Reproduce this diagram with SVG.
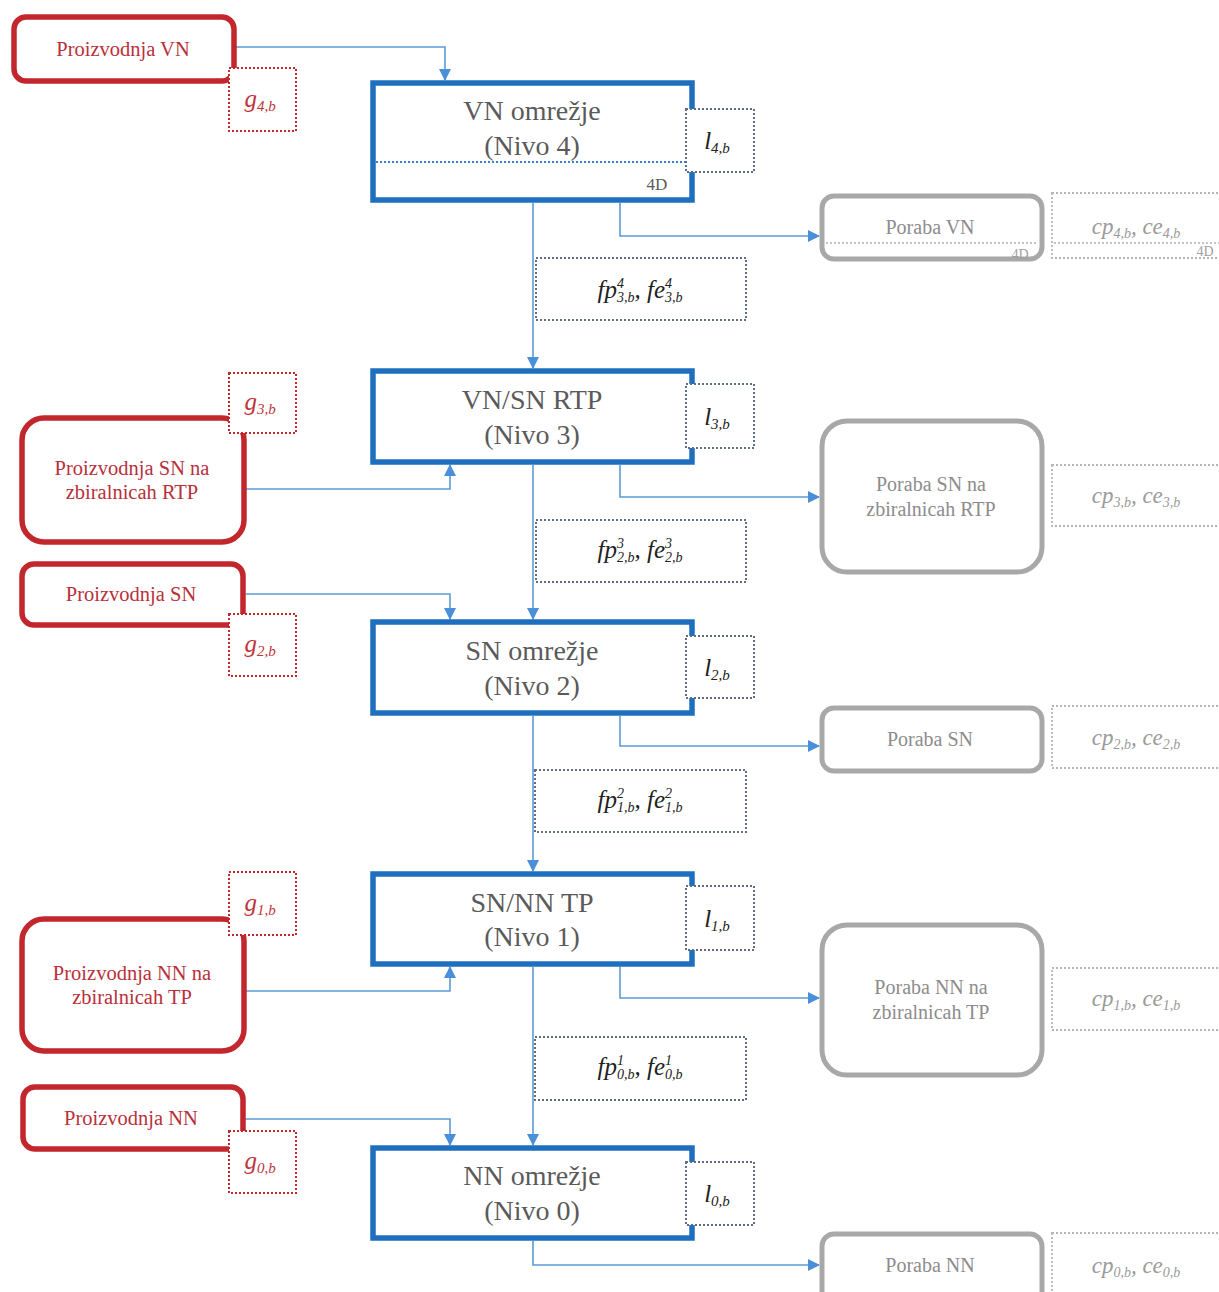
<svg xmlns="http://www.w3.org/2000/svg" width="1219" height="1292" viewBox="0 0 1219 1292">
<style>
.bg{fill:#fff}
.blue{fill:#fff;stroke:#1f6fbf;stroke-width:5.5}
.red{fill:#fff;stroke:#c1272d;stroke-width:5.5}
.gray{fill:#fff;stroke:#a8a8a8;stroke-width:5}
.dotr{fill:#fff;stroke:#c1272d;stroke-width:2;stroke-dasharray:2 2}
.dotb{fill:#fff;stroke:#5d6e86;stroke-width:2;stroke-dasharray:2 2}
.dotg{fill:#fff;stroke:#b5b5b5;stroke-width:1.8;stroke-dasharray:2 2}
.inl{fill:none;stroke:#3b7fc4;stroke-width:1.8;stroke-dasharray:2 2}
.ing{fill:none;stroke:#b0b0b0;stroke-width:1.6;stroke-dasharray:2 2}
.conn{fill:none;stroke:#5b9bd5;stroke-width:1.6}
.tb{font-family:"Liberation Serif",serif;font-size:28px;fill:#5a5a5a;text-anchor:middle}
.tr{font-family:"Liberation Serif",serif;font-size:20.5px;fill:#b8303a;text-anchor:middle}
.tg{font-family:"Liberation Serif",serif;font-size:20px;fill:#8c8c8c;text-anchor:middle}
.m{font-family:"Liberation Serif",serif;font-style:italic;font-size:25px;fill:#222;text-anchor:middle}
.mr{font-family:"Liberation Serif",serif;font-style:italic;font-size:25px;fill:#c0343a;text-anchor:middle}
.mg{font-family:"Liberation Serif",serif;font-style:italic;font-size:23px;fill:#9a9a9a;text-anchor:middle}
.s4d{font-family:"Liberation Serif",serif;font-size:17px;fill:#5a5a5a;text-anchor:middle}
.s4dg{font-family:"Liberation Serif",serif;font-size:14px;fill:#a0a0a0;text-anchor:middle}
</style>
<defs>
<marker id="arr" markerUnits="userSpaceOnUse" markerWidth="12" markerHeight="12" refX="11" refY="6" orient="auto">
<path d="M0,0 L12,6 L0,12 z" fill="#4a90d9"/>
</marker>
</defs>
<rect class="bg" x="0" y="0" width="1219" height="1292"/>

<g id="connectors">
<path class="conn" marker-end="url(#arr)" d="M236,47 H445 V80"/>
<path class="conn" marker-end="url(#arr)" d="M533,203 V368"/>
<path class="conn" marker-end="url(#arr)" d="M620,203 V236 H819"/>
<path class="conn" marker-end="url(#arr)" d="M246,489 H450 V465"/>
<path class="conn" marker-end="url(#arr)" d="M620,465 V497 H819"/>
<path class="conn" marker-end="url(#arr)" d="M533,465 V619"/>
<path class="conn" marker-end="url(#arr)" d="M246,594 H450 V619"/>
<path class="conn" marker-end="url(#arr)" d="M620,716 V746 H819"/>
<path class="conn" marker-end="url(#arr)" d="M533,716 V871"/>
<path class="conn" marker-end="url(#arr)" d="M246,991 H450 V967"/>
<path class="conn" marker-end="url(#arr)" d="M620,967 V998 H819"/>
<path class="conn" marker-end="url(#arr)" d="M533,967 V1145"/>
<path class="conn" marker-end="url(#arr)" d="M245,1119 H450 V1145"/>
<path class="conn" marker-end="url(#arr)" d="M533,1241 V1265 H819"/>
</g>

<!-- Level 4 -->
<g id="proizvodnja-vn">
<rect class="red" x="14" y="17" width="220" height="64" rx="12"/>
<text class="tr" x="123" y="56">Proizvodnja VN</text>
</g>
<g id="g4">
<rect class="dotr" x="229" y="68" width="67" height="63"/>
<text class="mr" x="260" y="107">g<tspan font-size="15" dy="4">4,b</tspan></text>
</g>
<g id="vn-omrezje">
<rect class="blue" x="373" y="83" width="319" height="117"/>
<line class="inl" x1="376" y1="162" x2="686" y2="162"/>
<text class="tb" x="532" y="120">VN omrežje</text>
<text class="tb" x="532" y="155">(Nivo 4)</text>
<text class="s4d" x="657" y="190">4D</text>
</g>
<g id="l4">
<rect class="dotb" x="686" y="109" width="68" height="63"/>
<text class="m" x="717" y="149">l<tspan font-size="15" dy="4">4,b</tspan></text>
</g>
<g id="poraba-vn">
<rect class="gray" x="822" y="196" width="220" height="63" rx="12"/>
<line class="ing" x1="826" y1="243" x2="1038" y2="243"/>
<text class="tg" x="930" y="234">Poraba VN</text>
<text class="s4dg" x="1020" y="259">4D</text>
</g>
<g id="cp4">
<rect class="dotg" x="1052" y="193" width="180" height="65"/>
<line class="ing" x1="1054" y1="243" x2="1219" y2="243"/>
<text class="mg" x="1136" y="234">cp<tspan font-size="14" dy="4">4,b</tspan><tspan dy="-4">, ce</tspan><tspan font-size="14" dy="4">4,b</tspan></text>
<text class="s4dg" x="1205" y="256">4D</text>
</g>
<g id="fp3">
<rect class="dotb" x="536" y="258" width="210" height="62"/>
<text class="m" x="640" y="298">fp<tspan font-size="14" dy="-10">4</tspan><tspan font-size="14" dx="-7" dy="14">3,b</tspan><tspan dy="-4">, fe</tspan><tspan font-size="14" dy="-10">4</tspan><tspan font-size="14" dx="-7" dy="14">3,b</tspan></text>
</g>

<!-- Level 3 -->
<g id="proizvodnja-sn-rtp">
<rect class="red" x="22" y="418" width="222" height="124" rx="22"/>
<text class="tr" x="132" y="475">Proizvodnja SN na</text>
<text class="tr" x="132" y="499">zbiralnicah RTP</text>
</g>
<g id="g3">
<rect class="dotr" x="229" y="373" width="67" height="60"/>
<text class="mr" x="260" y="410">g<tspan font-size="15" dy="4">3,b</tspan></text>
</g>
<g id="vn-sn-rtp">
<rect class="blue" x="373" y="371" width="319" height="91"/>
<text class="tb" x="532" y="409">VN/SN RTP</text>
<text class="tb" x="532" y="444">(Nivo 3)</text>
</g>
<g id="l3">
<rect class="dotb" x="686" y="384" width="68" height="64"/>
<text class="m" x="717" y="425">l<tspan font-size="15" dy="4">3,b</tspan></text>
</g>
<g id="poraba-sn-rtp">
<rect class="gray" x="822" y="421" width="220" height="151" rx="25"/>
<text class="tg" x="931" y="491">Poraba SN na</text>
<text class="tg" x="931" y="516">zbiralnicah RTP</text>
</g>
<g id="cp3">
<rect class="dotg" x="1052" y="465" width="180" height="61"/>
<text class="mg" x="1136" y="503">cp<tspan font-size="14" dy="4">3,b</tspan><tspan dy="-4">, ce</tspan><tspan font-size="14" dy="4">3,b</tspan></text>
</g>
<g id="fp2">
<rect class="dotb" x="536" y="520" width="210" height="62"/>
<text class="m" x="640" y="558">fp<tspan font-size="14" dy="-10">3</tspan><tspan font-size="14" dx="-7" dy="14">2,b</tspan><tspan dy="-4">, fe</tspan><tspan font-size="14" dy="-10">3</tspan><tspan font-size="14" dx="-7" dy="14">2,b</tspan></text>
</g>

<!-- Level 2 -->
<g id="proizvodnja-sn">
<rect class="red" x="22" y="564" width="221" height="61" rx="12"/>
<text class="tr" x="131" y="601">Proizvodnja SN</text>
</g>
<g id="g2">
<rect class="dotr" x="229" y="614" width="67" height="62"/>
<text class="mr" x="260" y="652">g<tspan font-size="15" dy="4">2,b</tspan></text>
</g>
<g id="sn-omrezje">
<rect class="blue" x="373" y="622" width="319" height="91"/>
<text class="tb" x="532" y="660">SN omrežje</text>
<text class="tb" x="532" y="695">(Nivo 2)</text>
</g>
<g id="l2">
<rect class="dotb" x="686" y="636" width="68" height="62"/>
<text class="m" x="717" y="676">l<tspan font-size="15" dy="4">2,b</tspan></text>
</g>
<g id="poraba-sn">
<rect class="gray" x="822" y="708" width="220" height="63" rx="12"/>
<text class="tg" x="930" y="746">Poraba SN</text>
</g>
<g id="cp2">
<rect class="dotg" x="1052" y="706" width="180" height="62"/>
<text class="mg" x="1136" y="745">cp<tspan font-size="14" dy="4">2,b</tspan><tspan dy="-4">, ce</tspan><tspan font-size="14" dy="4">2,b</tspan></text>
</g>
<g id="fp1">
<rect class="dotb" x="535" y="770" width="211" height="62"/>
<text class="m" x="640" y="808">fp<tspan font-size="14" dy="-10">2</tspan><tspan font-size="14" dx="-7" dy="14">1,b</tspan><tspan dy="-4">, fe</tspan><tspan font-size="14" dy="-10">2</tspan><tspan font-size="14" dx="-7" dy="14">1,b</tspan></text>
</g>

<!-- Level 1 -->
<g id="proizvodnja-nn-tp">
<rect class="red" x="22" y="919" width="222" height="132" rx="22"/>
<text class="tr" x="132" y="980">Proizvodnja NN na</text>
<text class="tr" x="132" y="1004">zbiralnicah TP</text>
</g>
<g id="g1">
<rect class="dotr" x="229" y="872" width="67" height="63"/>
<text class="mr" x="260" y="911">g<tspan font-size="15" dy="4">1,b</tspan></text>
</g>
<g id="sn-nn-tp">
<rect class="blue" x="373" y="874" width="319" height="90"/>
<text class="tb" x="532" y="912">SN/NN TP</text>
<text class="tb" x="532" y="946">(Nivo 1)</text>
</g>
<g id="l1">
<rect class="dotb" x="686" y="886" width="68" height="64"/>
<text class="m" x="717" y="927">l<tspan font-size="15" dy="4">1,b</tspan></text>
</g>
<g id="poraba-nn-tp">
<rect class="gray" x="822" y="925" width="220" height="150" rx="25"/>
<text class="tg" x="931" y="994">Poraba NN na</text>
<text class="tg" x="931" y="1019">zbiralnicah TP</text>
</g>
<g id="cp1">
<rect class="dotg" x="1052" y="968" width="180" height="62"/>
<text class="mg" x="1136" y="1006">cp<tspan font-size="14" dy="4">1,b</tspan><tspan dy="-4">, ce</tspan><tspan font-size="14" dy="4">1,b</tspan></text>
</g>
<g id="fp0">
<rect class="dotb" x="535" y="1037" width="211" height="63"/>
<text class="m" x="640" y="1075">fp<tspan font-size="14" dy="-10">1</tspan><tspan font-size="14" dx="-7" dy="14">0,b</tspan><tspan dy="-4">, fe</tspan><tspan font-size="14" dy="-10">1</tspan><tspan font-size="14" dx="-7" dy="14">0,b</tspan></text>
</g>

<!-- Level 0 -->
<g id="proizvodnja-nn">
<rect class="red" x="23" y="1087" width="220" height="62" rx="12"/>
<text class="tr" x="131" y="1125">Proizvodnja NN</text>
</g>
<g id="g0">
<rect class="dotr" x="229" y="1131" width="67" height="62"/>
<text class="mr" x="260" y="1169">g<tspan font-size="15" dy="4">0,b</tspan></text>
</g>
<g id="nn-omrezje">
<rect class="blue" x="373" y="1148" width="319" height="90"/>
<text class="tb" x="532" y="1185">NN omrežje</text>
<text class="tb" x="532" y="1220">(Nivo 0)</text>
</g>
<g id="l0">
<rect class="dotb" x="686" y="1162" width="68" height="63"/>
<text class="m" x="717" y="1202">l<tspan font-size="15" dy="4">0,b</tspan></text>
</g>
<g id="poraba-nn">
<rect class="gray" x="822" y="1234" width="220" height="75" rx="12"/>
<text class="tg" x="930" y="1272">Poraba NN</text>
</g>
<g id="cp0">
<rect class="dotg" x="1052" y="1233" width="180" height="75"/>
<text class="mg" x="1136" y="1273">cp<tspan font-size="14" dy="4">0,b</tspan><tspan dy="-4">, ce</tspan><tspan font-size="14" dy="4">0,b</tspan></text>
</g>
</svg>
